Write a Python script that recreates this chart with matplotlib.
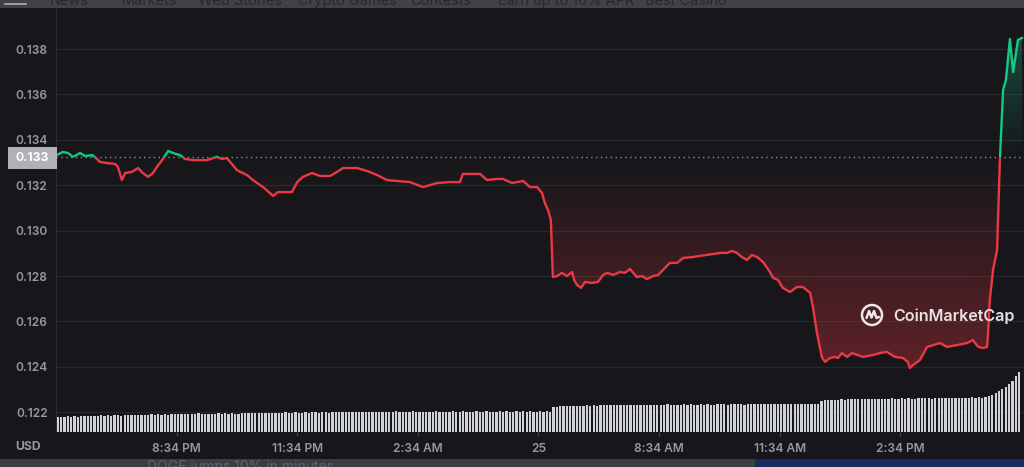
import numpy as np
import matplotlib
matplotlib.use("Agg")
import matplotlib.pyplot as plt
from matplotlib.patches import Rectangle, Polygon, Circle
from matplotlib.lines import Line2D

plt.rcParams['font.family'] = ['Inter', 'DejaVu Sans']

# ---------------- data ----------------
hours = [0.02, 0.17, 0.30, 0.42, 0.60, 0.72, 0.90, 1.02, 1.09, 1.27, 1.47, 1.54, 1.64, 1.72, 1.89,
         2.04, 2.16, 2.29, 2.41, 2.51, 2.64, 2.79, 2.91, 3.08, 3.21, 3.41, 3.76, 4.00, 4.13, 4.25,
         4.33, 4.50, 4.75, 4.90, 5.15, 5.32, 5.40, 5.52, 5.75, 5.87, 6.00, 6.14, 6.37, 6.57, 6.82,
         6.99, 7.14, 7.49, 7.74, 7.99, 8.23, 8.48, 8.81, 9.13, 9.48, 9.80, 10.05, 10.12, 10.55, 10.72,
         10.97, 11.12, 11.34, 11.62, 11.79, 11.97, 12.09, 12.16, 12.24, 12.31, 12.36, 12.46, 12.59, 12.71, 12.84,
         12.89, 12.96, 13.06, 13.16, 13.33, 13.48, 13.61, 13.71, 13.86, 14.03, 14.15, 14.28, 14.45, 14.58, 14.70,
         14.85, 14.98, 15.10, 15.27, 15.45, 15.60, 15.85, 16.02, 16.19, 16.34, 16.52, 16.69, 16.82, 16.94, 17.06,
         17.19, 17.31, 17.44, 17.59, 17.76, 17.84, 17.96, 18.08, 18.26, 18.43, 18.58, 18.76, 18.83, 18.93, 19.05,
         19.13, 19.25, 19.38, 19.45, 19.55, 19.68, 19.80, 20.07, 20.32, 20.50, 20.67, 20.87, 21.07, 21.19, 21.24,
         21.32, 21.49, 21.67, 21.82, 21.99, 22.16, 22.41, 22.66, 22.81, 22.94, 23.06, 23.16, 23.18, 23.23, 23.31,
         23.41, 23.48, 23.56, 23.63, 23.73, 23.81, 23.93, 24.03]
price = [0.13333, 0.13347, 0.13342, 0.13325, 0.13342, 0.13329, 0.13333, 0.13316, 0.13303, 0.13298,
         0.13294, 0.13281, 0.13223, 0.13254, 0.13259, 0.13276, 0.13254, 0.13237, 0.13254, 0.13281,
         0.13311, 0.13351, 0.13342, 0.13333, 0.13316, 0.13311, 0.13311, 0.13325, 0.13316, 0.13320,
         0.13303, 0.13267, 0.13245, 0.13223, 0.13192, 0.13166, 0.13153, 0.13170, 0.13170, 0.13170,
         0.13214, 0.13237, 0.13254, 0.13241, 0.13241, 0.13259, 0.13276, 0.13276, 0.13263, 0.13245,
         0.13223, 0.13219, 0.13214, 0.13192, 0.13210, 0.13214, 0.13214, 0.13250, 0.13250, 0.13223,
         0.13228, 0.13228, 0.13210, 0.13219, 0.13192, 0.13192, 0.13166, 0.13122, 0.13091, 0.13047,
         0.12796, 0.12800, 0.12814, 0.12800, 0.12818, 0.12783, 0.12761, 0.12748, 0.12774, 0.12770,
         0.12774, 0.12805, 0.12814, 0.12805, 0.12818, 0.12814, 0.12831, 0.12796, 0.12800, 0.12787,
         0.12800, 0.12805, 0.12827, 0.12858, 0.12858, 0.12880, 0.12884, 0.12889, 0.12893, 0.12897,
         0.12902, 0.12902, 0.12911, 0.12902, 0.12884, 0.12871, 0.12893, 0.12884, 0.12862, 0.12818,
         0.12792, 0.12783, 0.12748, 0.12730, 0.12752, 0.12752, 0.12726, 0.12664, 0.12549, 0.12444,
         0.12422, 0.12439, 0.12444, 0.12439, 0.12461, 0.12444, 0.12461, 0.12444, 0.12452, 0.12461,
         0.12466, 0.12444, 0.12439, 0.12422, 0.12395, 0.12408, 0.12430, 0.12488, 0.12496, 0.12505,
         0.12488, 0.12496, 0.12505, 0.12518, 0.12488, 0.12483, 0.12488, 0.12532, 0.12695, 0.12827,
         0.12915, 0.13311, 0.13620, 0.13664, 0.13844, 0.13699, 0.13840, 0.13849]
base_price = 0.13324

# volume bars (one per 5 minutes, arbitrary units)
volume = [148, 153, 151, 156, 150, 158, 155, 160, 157, 163, 159, 162, 164,
          166, 162, 168, 165, 170, 167, 164, 171, 169, 173, 168, 172, 175, 170, 174, 178, 172, 176,
          174, 179, 175, 177, 181, 176, 180, 178, 183, 179, 182, 186, 180, 184, 181, 185, 183, 187,
          182, 186, 184, 188, 185, 183, 189, 186, 188,
          190, 187, 192, 189, 194, 190, 188, 195, 191, 193, 196, 190, 194, 197, 192, 195, 199, 193,
          196, 198, 194, 200, 197, 195, 201, 198, 196, 202, 199, 197,
          203, 199, 201, 198, 204, 200, 202, 199, 205, 201, 198, 203, 200, 206, 202, 199, 204, 201, 207, 203,
          200, 205, 202, 204, 201, 206, 203, 200, 205, 202, 207, 204, 201, 206, 203, 205, 202, 208, 204, 201,
          206, 203, 205, 202, 207, 204, 206, 203, 205, 208, 204, 206, 203, 207, 205, 204, 206, 203, 207, 205,
          252, 255, 258, 256, 260, 262, 259, 263, 265, 262, 266, 264, 268, 265, 267, 270, 266, 269, 271, 268,
          270, 272, 269, 273, 271, 270, 274, 272, 269, 273, 275, 271, 274, 272, 276, 273, 270, 275, 273, 277,
          274, 276, 272, 275, 278, 274, 277, 275, 273, 278, 276, 279, 275, 277, 280, 276, 278, 275, 279, 277,
          280, 278, 276, 281, 277, 279, 282, 278, 280, 277, 281, 279, 283, 280, 278, 282, 280, 284, 281, 283,
          312, 318, 322, 320, 325, 323, 327, 324, 328, 326, 330, 327, 331, 329, 333, 330, 328, 334, 331, 335,
          332, 336, 333, 331, 337, 334, 338, 335, 333, 339, 336, 340, 337, 335, 341, 338, 342, 339, 337, 343,
          340, 344, 341, 345, 342, 346, 343, 347, 345, 348,
          360, 375, 392, 410, 430, 455, 480, 510, 560, 600]

tick_hours = [3, 6, 9, 12, 15, 18, 21]
tick_labels = ['8:34 PM', '11:34 PM', '2:34 AM', '25', '8:34 AM', '11:34 AM', '2:34 PM']
y_ticks = [0.122, 0.124, 0.126, 0.128, 0.130, 0.132, 0.134, 0.136, 0.138]
nav_items = ['News', 'Markets', 'Web Stories', 'Crypto Games', 'Contests', 'Earn up to 10% APR', 'Best Casino']
footer_headline = 'DOGE jumps 10% in minutes'

# ---------------- style ----------------
BG = '#17171b'
RED = '#ea3943'
GREEN = '#16c784'
LABEL = '#9598a0'
GRID = '#26272c'
W, H = 1024, 467

def fx(px):
    return px / W

def fy(py):
    return 1 - py / H

fig = plt.figure(figsize=(W / 100, H / 100), dpi=100, facecolor=BG)
ax = fig.add_axes([fx(56), fy(432), fx(1024) - fx(56), fy(8) - fy(432)])
ax.set_facecolor(BG)

t = np.array(hours)
p = np.array(price)
XMAX = 24.08
YMIN, YMAX = 0.121132, 0.13981

# volume on a twin axis
axv = ax.twinx()
tv = np.arange(len(volume)) / 12.0 + 1 / 24.0
axv.bar(tv, volume, width=(1 / 12.0) * 0.68, color='#cfd2d7', zorder=1, linewidth=0)
axv.set_ylim(0, 4240)
axv.set_yticks([])
for s in axv.spines.values():
    s.set_visible(False)

# gradient fills clipped to area between line and base price
verts = np.column_stack([np.concatenate([t, t[::-1]]),
                         np.concatenate([p, np.full(len(t), base_price)])])
poly = Polygon(verts, closed=True, facecolor='none', edgecolor='none', transform=ax.transData)
ax.add_patch(poly)

red_rgb = matplotlib.colors.to_rgb(RED)
grn_rgb = matplotlib.colors.to_rgb(GREEN)
n = 256
red_img = np.zeros((n, 1, 4))
red_img[..., :3] = red_rgb
red_img[:, 0, 3] = np.linspace(0.34, 0.0, n)
im1 = ax.imshow(red_img, extent=[0, XMAX, p.min(), base_price], origin='lower',
                aspect='auto', zorder=2, interpolation='bilinear')
im1.set_clip_path(poly)

grn_img = np.zeros((n, 1, 4))
grn_img[..., :3] = grn_rgb
grn_img[:, 0, 3] = np.linspace(0.0, 0.30, n)
im2 = ax.imshow(grn_img, extent=[0, XMAX, base_price, p.max()], origin='lower',
                aspect='auto', zorder=2, interpolation='bilinear')
im2.set_clip_path(poly)

# price line, red below / green above base price
lr, = ax.plot(t, p, color=RED, lw=1.7, zorder=4, solid_joinstyle='round')
lg, = ax.plot(t, p, color=GREEN, lw=1.7, zorder=4, solid_joinstyle='round')
lr.set_clip_path(Rectangle((-1, 0), 30, base_price, transform=ax.transData))
lg.set_clip_path(Rectangle((-1, base_price), 30, 1, transform=ax.transData))

# dotted base line
ax.axhline(base_price, color='#8a8d93', lw=1.0, linestyle=(0, (1, 2.5)), zorder=3)

ax.set_xlim(0, XMAX)
ax.set_ylim(YMIN, YMAX)
ax.set_yticks(y_ticks)
ax.set_yticklabels([f'{v:.3f}' for v in y_ticks])
ax.set_xticks(tick_hours)
ax.set_xticklabels(tick_labels)
ax.grid(axis='y', color=GRID, lw=0.9)
ax.set_axisbelow(True)
ax.tick_params(axis='y', length=0, pad=6, labelcolor=LABEL, labelsize=8.6)
ax.tick_params(axis='x', length=3, color='#45474d', pad=5, labelcolor=LABEL, labelsize=8.6)
for lab in ax.get_xticklabels() + ax.get_yticklabels():
    lab.set_fontweight('semibold')
for k, s in ax.spines.items():
    s.set_visible(k == 'left')
ax.spines['left'].set_color('#2a2b30')

# current price label box
fig.add_artist(Rectangle((fx(8), fy(169)), fx(57) - fx(8), fy(147) - fy(169),
                         transform=fig.transFigure, facecolor='#aeb1b8', edgecolor='none', zorder=5))
fig.text(fx(32.5), fy(158), '0.133', color='white', fontsize=8.8, fontweight='bold',
         ha='center', va='center', zorder=6)

fig.text(fx(28), fy(447), 'USD', color=LABEL, fontsize=8.8, fontweight='bold',
         ha='center', va='center')

# watermark
ax_wm = fig.add_axes([fx(858), fy(329), fx(886) - fx(858), fy(301) - fy(329)])
ax_wm.set_xlim(-14, 14)
ax_wm.set_ylim(-14, 14)
ax_wm.set_aspect('equal')
ax_wm.axis('off')
ax_wm.add_patch(Circle((0, 0), 10, fill=False, edgecolor='white', lw=1.8, alpha=0.9))
ax_wm.plot([-5.5, -3, -0.5, 2, 4.5, 7], [-3, 4, -2.5, 4, -3, -2], color='white', lw=1.8,
           alpha=0.9, solid_joinstyle='round', solid_capstyle='round')
fig.text(fx(893), fy(316), 'CoinMarketCap', color='white', alpha=0.88, fontsize=11.6,
         fontweight='semibold', ha='left', va='center')

# header bar (browser nav, cut off in the screenshot)
fig.add_artist(Rectangle((0, fy(8)), 1, fy(0) - fy(8), transform=fig.transFigure,
                         facecolor='#3f4347', edgecolor='none', zorder=5))
fig.add_artist(Line2D([fx(5), fx(26)], [fy(4), fy(4)], transform=fig.transFigure,
                      color='#aab0b6', lw=1.2, zorder=6))
for xx, txt in zip([50, 122, 198, 298, 410, 498, 645], nav_items):
    fig.text(fx(xx), fy(1), txt, color='#25282c', fontsize=10.5, ha='left', va='center', zorder=6)

# footer bar
fig.add_artist(Rectangle((0, 0), 1, fy(459), transform=fig.transFigure,
                         facecolor='#3b3d41', edgecolor='none', zorder=5))
fig.add_artist(Rectangle((fx(755), 0), 1 - fx(755), fy(459), transform=fig.transFigure,
                         facecolor='#1c2a60', edgecolor='none', zorder=5))
fig.text(fx(147), fy(467), footer_headline, color='#606368', fontsize=10,
         ha='left', va='center', zorder=6)

fig.savefig('out.png', dpi=100, facecolor=BG)
